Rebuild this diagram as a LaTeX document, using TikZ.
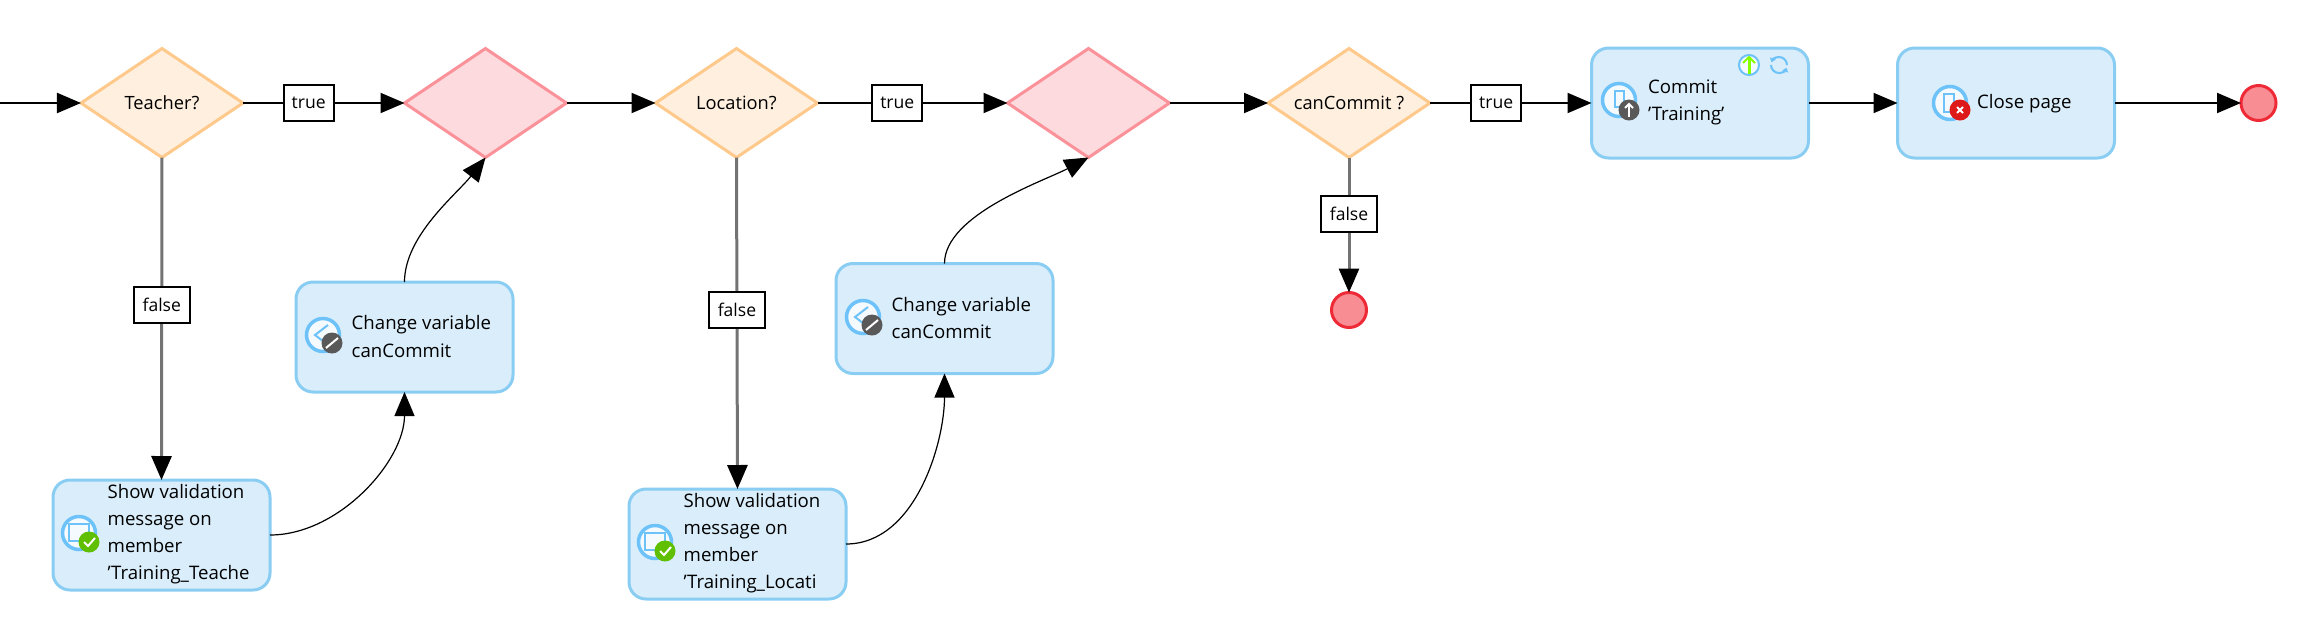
\documentclass[tikz,border=0pt]{standalone}
\usepackage{fontspec}
\setmainfont{Open Sans}
\usepackage{xcolor}
\usetikzlibrary{arrows.meta,positioning,calc,shapes.geometric}

\definecolor{actfill}{HTML}{D9EDFA}
\definecolor{actline}{HTML}{8ACDF3}
\definecolor{askfill}{HTML}{FEEFDE}
\definecolor{askline}{HTML}{FFC98C}
\definecolor{mrgfill}{HTML}{FDDADD}
\definecolor{mrgline}{HTML}{FB9199}
\definecolor{endfill}{HTML}{F88D94}
\definecolor{endline}{HTML}{EE2A37}
\definecolor{ringblue}{HTML}{6CC2F9}

\tikzset{
	ask/.style={diamond,draw=askline,fill=askfill,line width=0.03cm,minimum width=1.62cm,minimum height=1.09cm,shape aspect=1.486,inner sep=0pt,outer sep=0pt,font=\fontsize{5.2}{8}\selectfont},
	mrg/.style={diamond,draw=mrgline,fill=mrgfill,line width=0.03cm,minimum width=1.62cm,minimum height=1.09cm,shape aspect=1.486,inner sep=0pt,outer sep=0pt},
	act/.style={rectangle,rounded corners=0.17cm,draw=actline,fill=actfill,line width=0.03cm,minimum width=2.17cm,minimum height=1.1cm,inner sep=0pt,outer sep=0pt},
	acttxt/.style={anchor=west,align=left,inner sep=0pt,font=\fontsize{5.3}{7.7}\selectfont},
	lbl/.style={rectangle,draw=black,fill=white,line width=0.02cm,minimum height=0.36cm,inner sep=0pt,outer sep=0pt,font=\fontsize{5}{8}\selectfont},
	endpt/.style={circle,draw=endline,fill=endfill,line width=0.03cm,minimum size=0.35cm,inner sep=0pt,outer sep=0pt},
	flow/.style={line width=0.02cm,-{Triangle[length=0.24cm,width=0.2cm]}},
	flowgray/.style={flow,draw=black!55,line width=0.03cm,-{Triangle[length=0.24cm,width=0.2cm,black]}},
	curveflow/.style={line width=0.012cm,-{Triangle[length=0.24cm,width=0.2cm]}},
	icn/.style={circle,draw=ringblue,fill=white!70!actfill,line width=0.035cm,minimum size=0.33cm,inner sep=0pt},
	badge/.style={circle,minimum size=0.21cm,inner sep=0pt},
	glyph/.style={draw=ringblue,line width=0.02cm},
	glyphw/.style={draw=white,line width=0.02cm}
}

\begin{document}
\begin{tikzpicture}
	\useasboundingbox (0,0) rectangle (23.02,-6.23);
	
	\coordinate (start) at (0,-1.03);
	
	% top row
	\node[ask] (teacher) at (1.62,-1.03) {Teacher?};
	\node[mrg] (merge1) at (4.855,-1.03) {};
	\node[ask] (location) at (7.365,-1.03) {Location?};
	\node[mrg] (merge2) at (10.885,-1.03) {};
	\node[ask] (cancommit) at (13.49,-1.03) {canCommit ?};
	
	\node[act] (commit) at (17.0,-1.03) {};
	\node[act] (closepage) at (20.06,-1.03) {};
	\node[endpt] (endright) at (22.585,-1.03) {};
	\node[endpt] (endfalse) at (13.49,-3.1) {};
	
	% change variable and validation boxes
	\node[act] (change1) at (4.045,-3.37) {};
	\node[act] (change2) at (9.445,-3.185) {};
	\node[act] (show1) at (1.615,-5.35) {};
	\node[act] (show2) at (7.375,-5.44) {};
	
	% box texts
	\node[acttxt] (change1txt) at (3.51,-3.365) {Change variable\\canCommit};
	\node[acttxt] (change2txt) at (8.91,-3.18) {Change variable\\canCommit};
	\node[acttxt] (show1txt) at (1.07,-5.34) {Show validation\\message on\\member\\'Training\_Teache};
	\node[acttxt] (show2txt) at (6.83,-5.43) {Show validation\\message on\\member\\'Training\_Locati};
	\node[acttxt] (committxt) at (16.475,-1.02) {Commit\\'Training'};
	\node[acttxt] (closetxt) at (19.765,-1.04) {Close page};
	
	% connectors
	\draw[flow] (start) -- (teacher.west);
	\draw[flow] (teacher.east) -- node[lbl,minimum width=0.5cm,pos=0.407] (true1) {true} (merge1.west);
	\draw[flow] (merge1.east) -- (location.west);
	\draw[flow] (location.east) -- node[lbl,minimum width=0.5cm,pos=0.42] (true2) {true} (merge2.west);
	\draw[flow] (merge2.east) -- (cancommit.west);
	\draw[flow] (cancommit.east) -- node[lbl,minimum width=0.5cm,pos=0.41] (true3) {true} (commit.west);
	\draw[flow] (commit.east) -- (closepage.west);
	\draw[flow] (closepage.east) -- (endright.west);
	
	\draw[flowgray] (teacher.south) -- node[lbl,minimum width=0.56cm,pos=0.458] (false1) {false} (show1.north);
	\draw[flowgray] (location.south) -- node[lbl,minimum width=0.56cm,pos=0.46] (false2) {false} (show2.north);
	\draw[flowgray] (cancommit.south) -- node[lbl,minimum width=0.56cm,pos=0.418] (false3) {false} (endfalse.north);
	
	\draw[curveflow] (show1.east) to[out=0,in=-90,looseness=0.9] (change1.south);
	\draw[curveflow] (show2.east) to[out=0,in=-90,looseness=0.9] (change2.south);
	\draw[curveflow] (change1.north) to[out=90,in=-128,looseness=0.8] (merge1.south);
	\draw[curveflow] (change2.north) to[out=90,in=-152,looseness=0.7] (merge2.south);
	
	% icons
	\node[icn] (icnchange1) at (3.23,-3.35) {};
	\draw[glyph] (3.28,-3.25) -- (3.15,-3.35) -- (3.28,-3.45);
	\node[badge,fill=black!65] (bdgchange1) at (3.32,-3.43) {};
	\draw[glyphw] (3.26,-3.48) -- (3.38,-3.38);
	
	\node[icn] (icnchange2) at (8.63,-3.17) {};
	\draw[glyph] (8.68,-3.07) -- (8.55,-3.17) -- (8.68,-3.27);
	\node[badge,fill=black!65] (bdgchange2) at (8.72,-3.25) {};
	\draw[glyphw] (8.66,-3.30) -- (8.78,-3.20);
	
	\node[icn] (icnshow1) at (0.79,-5.33) {};
	\draw[glyph] (0.69,-5.41) rectangle (0.89,-5.24);
	\node[badge,fill=green!50!black!50!lime] (bdgshow1) at (0.89,-5.42) {};
	\draw[glyphw] (0.84,-5.42) -- (0.88,-5.46) -- (0.95,-5.38);
	
	\node[icn] (icnshow2) at (6.55,-5.42) {};
	\draw[glyph] (6.45,-5.50) rectangle (6.65,-5.33);
	\node[badge,fill=green!50!black!50!lime] (bdgshow2) at (6.65,-5.51) {};
	\draw[glyphw] (6.60,-5.51) -- (6.64,-5.55) -- (6.71,-5.47);
	
	\node[icn] (icncommit) at (16.19,-1.0) {};
	\draw[glyph] (16.15,-1.07) rectangle (16.24,-0.91);
	\node[badge,fill=black!65] (bdgcommit) at (16.29,-1.10) {};
	\draw[glyphw] (16.29,-1.17) -- (16.29,-1.04);
	\draw[glyphw] (16.25,-1.08) -- (16.29,-1.04) -- (16.33,-1.08);
	
	\node[icn] (icnclose) at (19.5,-1.03) {};
	\draw[glyph] (19.44,-1.12) rectangle (19.54,-0.94);
	\node[badge,fill=red!85!black!90!white] (bdgclose) at (19.6,-1.1) {};
	\draw[glyphw] (19.57,-1.13) -- (19.63,-1.07);
	\draw[glyphw] (19.57,-1.07) -- (19.63,-1.13);
	
	\node[icn,minimum size=0.2cm,line width=0.02cm] (icnup) at (17.49,-0.65) {};
	\draw[draw=lime!70!green,line width=0.03cm] (17.49,-0.74) -- (17.49,-0.57);
	\draw[draw=lime!70!green,line width=0.02cm] (17.43,-0.63) -- (17.49,-0.57) -- (17.55,-0.63);
	\draw[glyph,-{Triangle[length=0.04cm,width=0.06cm]}] (17.87,-0.65) arc (0:160:0.08);
	\draw[glyph,-{Triangle[length=0.04cm,width=0.06cm]}] (17.71,-0.65) arc (180:340:0.08);
	
\end{tikzpicture}
\end{document}
